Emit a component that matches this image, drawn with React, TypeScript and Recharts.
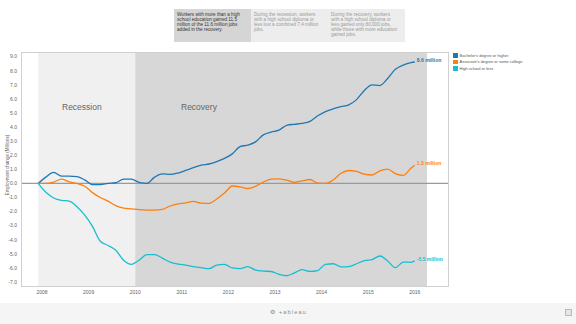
import React from 'react';
import { LineChart, Line, XAxis, YAxis, ReferenceArea, ReferenceLine } from 'recharts';

// bi-monthly samples, Dec 2007 -> Jan 2016 (year as decimal)
const months = [
  2007.917, 2008.083, 2008.25, 2008.417, 2008.583, 2008.75, 2008.917, 2009.083, 2009.25, 2009.417,
  2009.583, 2009.75, 2009.917, 2010.083, 2010.25, 2010.417, 2010.583, 2010.75, 2010.917, 2011.083,
  2011.25, 2011.417, 2011.583, 2011.75, 2011.917, 2012.083, 2012.25, 2012.417, 2012.583, 2012.75,
  2012.917, 2013.083, 2013.25, 2013.417, 2013.583, 2013.75, 2013.917, 2014.083, 2014.25, 2014.417,
  2014.583, 2014.75, 2014.917, 2015.083, 2015.25, 2015.417, 2015.583, 2015.75, 2015.917, 2016.0,
];

const bachelor = [
  0, 0.45, 0.78, 0.52, 0.52, 0.48, 0.25, -0.08, -0.08, 0.0,
  0.05, 0.3, 0.3, 0.08, 0.0, 0.45, 0.68, 0.64, 0.74, 0.92,
  1.12, 1.3, 1.38, 1.55, 1.78, 2.1, 2.62, 2.72, 2.95, 3.45,
  3.65, 3.78, 4.13, 4.2, 4.26, 4.4, 4.8, 5.1, 5.3, 5.45,
  5.58, 5.95, 6.6, 7.0, 6.95, 7.45, 8.1, 8.4, 8.58, 8.62,
];

const associate = [
  0, 0, 0.1, 0.3, 0.12, 0, -0.2, -0.65, -1.0, -1.25,
  -1.58, -1.75, -1.8, -1.86, -1.89, -1.89, -1.84, -1.6, -1.45, -1.38,
  -1.27, -1.4, -1.42, -1.1, -0.68, -0.18, -0.24, -0.36, -0.2, 0.1,
  0.3, 0.33, 0.23, 0.08, 0.18, 0.28, 0.02, 0, 0.25, 0.72,
  0.92, 0.85, 0.66, 0.6, 0.9, 1.02, 0.7, 0.57, 1.08, 1.3,
];

const highSchool = [
  0, -0.63, -1.03, -1.2, -1.25, -1.65, -2.25, -3.05, -4.1, -4.4,
  -4.74, -5.45, -5.74, -5.45, -5.05, -5.05, -5.3, -5.58, -5.72, -5.8,
  -5.9, -5.98, -6.05, -5.8, -5.75, -6.0, -6.05, -5.9, -6.15, -6.22,
  -6.25, -6.45, -6.55, -6.35, -6.12, -6.24, -6.18, -5.74, -5.7, -5.92,
  -5.9, -5.7, -5.48, -5.4, -5.15, -5.5, -5.98, -5.58, -5.6, -5.5,
];

const yearTicks = [2008, 2009, 2010, 2011, 2012, 2013, 2014, 2015, 2016];
const valueTicks = [-7, -6, -5, -4, -3, -2, -1, 0, 1, 2, 3, 4, 5, 6, 7, 8, 9];

const seriesNames = ["Bachelor's degree or higher", "Associate's degree or some college", 'High school or less'];
const endLabels = ['8.6 million', '1.3 million', '-5.5 million'];
const colors = ['#1f77b4', '#ff7f0e', '#17becf'];

const data = months.map((t, i) => ({
  t,
  bachelor: bachelor[i],
  associate: associate[i],
  highSchool: highSchool[i],
}));

const font = '"Liberation Sans", Arial, sans-serif';
const last = months.length - 1;

const endLabel = (text: string, color: string) => (props: any) => {
  if (props.index !== last) return null;
  return (
    <text x={props.x + 2} y={props.y - 1} fontSize={5} fill={color} fontFamily={font} fontWeight={700} dominantBaseline="middle">
      {text}
    </text>
  );
};

const boxes = [
  { text: 'Workers with more than a high school education gained 11.5 million of the 11.6 million jobs added in the recovery.', bg: '#d5d5d5', color: '#333' },
  { text: 'During the recession, workers with a high school diploma or less lost a combined 7.4 million jobs.', bg: '#ededed', color: '#999' },
  { text: 'During the recovery, workers with a high school diploma or less gained only 80,000 jobs, while those with more education gained jobs.', bg: '#ededed', color: '#999' },
];

export default function App() {
  return (
    <div style={{ position: 'absolute', top: 0, left: 0, width: 576, height: 324, background: '#fff', fontFamily: font, overflow: 'hidden' }}>
      {/* header story points */}
      <div style={{ position: 'absolute', top: 9, left: 174, display: 'flex' }}>
        {boxes.map((b) => (
          <div key={b.text} style={{ width: 77, height: 33, boxSizing: 'border-box', padding: '3px 6px 3px 3px', background: b.bg, color: b.color, fontSize: 4.65, lineHeight: '5px' }}>
            {b.text}
          </div>
        ))}
      </div>

      <LineChart width={576} height={300} data={data} margin={{ top: 52, right: 127, left: 0, bottom: 0 }} style={{ position: 'absolute', top: 0, left: 0 }}>
        <ReferenceArea x1={2007.917} x2={2010} fill="#f0f0f0" fillOpacity={1} />
        <ReferenceArea x1={2010} x2={2016.262} fill="#d7d7d7" fillOpacity={1} />
        <XAxis
          type="number"
          dataKey="t"
          domain={[2007.549, 2016.734]}
          ticks={yearTicks}
          allowDataOverflow
          height={13}
          axisLine={false}
          tickLine={false}
          tickSize={0}
          tickMargin={3}
          tick={{ fontSize: 5, fill: '#666', fontFamily: font }}
        />
        <YAxis
          type="number"
          domain={[-7.35, 9.33]}
          ticks={valueTicks}
          allowDataOverflow
          width={21}
          axisLine={false}
          tickLine={false}
          tickSize={0}
          tickMargin={4}
          tickFormatter={(v: number) => v.toFixed(1)}
          tick={{ fontSize: 5, fill: '#666', fontFamily: font }}
        />
        <ReferenceLine y={0} stroke="#9a9a9a" strokeWidth={1.2} />
        <Line type="monotone" dataKey="bachelor" stroke={colors[0]} strokeWidth={1.3} dot={false} isAnimationActive={false} label={endLabel(endLabels[0], colors[0])} />
        <Line type="monotone" dataKey="associate" stroke={colors[1]} strokeWidth={1.3} dot={false} isAnimationActive={false} label={endLabel(endLabels[1], colors[1])} />
        <Line type="monotone" dataKey="highSchool" stroke={colors[2]} strokeWidth={1.3} dot={false} isAnimationActive={false} label={endLabel(endLabels[2], colors[2])} />
      </LineChart>

      {/* plot frame */}
      <div style={{ position: 'absolute', left: 21, top: 52, width: 428, height: 235, border: '1px solid #d0d0d0', boxSizing: 'border-box', pointerEvents: 'none' }} />

      <div style={{ position: 'absolute', left: 62, top: 102, fontSize: 8.5, color: '#666' }}>Recession</div>
      <div style={{ position: 'absolute', left: 181, top: 102, fontSize: 8.5, color: '#666' }}>Recovery</div>

      {/* y axis title */}
      <div style={{ position: 'absolute', left: 7, top: 165, width: 0, height: 0 }}>
        <div style={{ position: 'absolute', transform: 'translate(-50%, -50%) rotate(-90deg)', whiteSpace: 'nowrap', fontSize: 4.5, color: '#666' }}>
          Employment change (Millions)
        </div>
      </div>

      {/* legend */}
      <div style={{ position: 'absolute', left: 453, top: 52 }}>
        {seriesNames.map((n, i) => (
          <div key={n} style={{ display: 'flex', alignItems: 'center', height: 6.5 }}>
            <div style={{ width: 4.5, height: 4.5, background: colors[i], marginRight: 2 }} />
            <span style={{ fontSize: 4, color: '#555', whiteSpace: 'nowrap' }}>{n}</span>
          </div>
        ))}
      </div>

      {/* footer */}
      <div style={{ position: 'absolute', left: 0, top: 303, width: 576, height: 21, background: '#f5f5f5' }}>
        <div style={{ position: 'absolute', left: 270, top: 6, fontSize: 5.5, color: '#888', letterSpacing: 1.2 }}>⚙ +ableau</div>
        <div style={{ position: 'absolute', left: 565, top: 6, width: 5, height: 5, border: '1px solid #bbb', background: '#e5e5e5' }} />
      </div>
    </div>
  );
}
